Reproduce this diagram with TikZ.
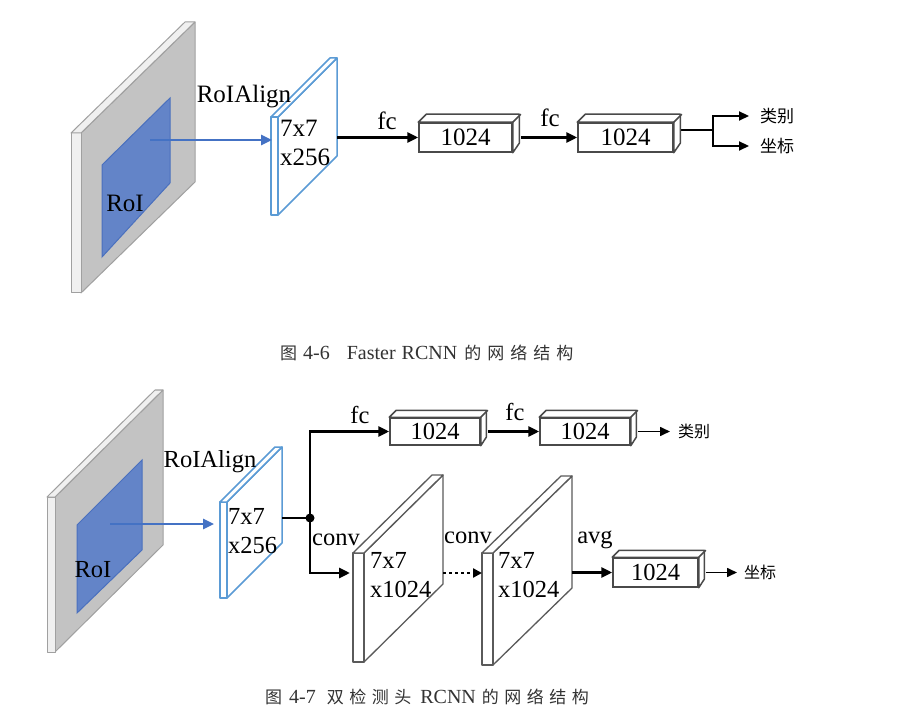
\documentclass[tikz,border=0pt]{standalone}
\usepackage{fontspec}
\setmainfont{Liberation Serif}
\newfontfamily\cjk{Noto Sans CJK SC}
\usetikzlibrary{arrows.meta}
\pgfdeclarelayer{bg}
\pgfsetlayers{bg,main}
\definecolor{slabgray}{HTML}{C3C3C3}
\definecolor{slabedge}{HTML}{A0A0A0}
\definecolor{stripfill}{HTML}{F0F0F0}
\definecolor{roiblue}{HTML}{6384C8}
\definecolor{roiedge}{HTML}{4A70BE}
\definecolor{arrowblue}{HTML}{4472C4}
\definecolor{featblue}{HTML}{5B9BD5}
\definecolor{boxc}{HTML}{4A4A4A}
\definecolor{slabline}{HTML}{5A5A5A}
\definecolor{capc}{HTML}{333333}
\newcommand\capcn[1]{{\cjk\fontsize{17}{17}\selectfont #1}}
\begin{document}
\begin{tikzpicture}[x=1pt,y=-1pt,
  lbl/.style={font=\fontsize{25}{29}\selectfont, inner sep=0pt},
  lblb/.style={font=\fontsize{24.5}{29}\selectfont, inner sep=0pt},
  cnl/.style={font=\cjk\fontsize{17}{17}\selectfont, inner sep=0pt, anchor=west},
  cns/.style={font=\cjk\fontsize{16}{16}\selectfont, inner sep=0pt, anchor=west},
  capt/.style={font=\fontsize{20}{20}\selectfont, text=capc, inner sep=0pt, anchor=west},
  fcbox/.style={draw=boxc, line width=1.5pt, fill=white, inner sep=0pt, minimum height=29pt},
  face/.style={draw=boxc, line width=1.5pt, fill=white, line join=round},
  arr/.style={line width=2.8pt, -{Triangle[length=11pt,width=10pt]}},
  thinarr/.style={line width=1.6pt, -{Triangle[length=10pt,width=9pt]}},
  bluearr/.style={draw=arrowblue, line width=2.6pt, -{Triangle[length=11pt,width=10pt]}},
  dotarr/.style={line width=2.8pt, dash pattern=on 3pt off 3pt, -{Triangle[length=9pt,width=9pt]}},
  grayslab/.style={fill=slabgray, draw=slabedge, line width=1pt, line join=round},
  strip/.style={fill=stripfill, draw=slabedge, line width=1pt, line join=round},
  roi/.style={fill=roiblue, draw=roiedge, line width=1pt},
  bluestrip/.style={fill=white, draw=featblue, line width=1.5pt, line join=round},
  whiteslab/.style={fill=white, draw=slabline, line width=1.3pt, line join=round},
]
\useasboundingbox (0,0) rectangle (914,714);
\begin{pgfonlayer}{bg}
\fill[white] (0,0) rectangle (914,714);
\end{pgfonlayer}

% ================= Figure 4-6 =================
\node[fcbox, minimum width=93pt, font=\fontsize{25}{25}\selectfont] (b1) at (465.5,137.5) {1024};
\draw[face] (b1.north west) -- ++(8,-8) -- ++(93,0) -- ++(0,29) -- (b1.south east) -- (b1.north east) -- cycle;
\draw[boxc, line width=1.5pt] (b1.north east) -- ++(8,-8);
\node[fcbox, minimum width=95pt, font=\fontsize{25}{25}\selectfont] (b2) at (625.5,137.5) {1024};
\draw[face] (b2.north west) -- ++(8,-8) -- ++(95,0) -- ++(0,29) -- (b2.south east) -- (b2.north east) -- cycle;
\draw[boxc, line width=1.5pt] (b2.north east) -- ++(8,-8);

\coordinate (roiA) at (150,140);
\coordinate (featA) at (272,140);
\coordinate (featAo) at (337,137.5);
\coordinate (b2o) at (680,130);
\coordinate (splitA) at (713,130);

\node[lbl] (roialignA) at (244,97) {RoIAlign};
\node[lbl] (roitxtA) at (125,203) {RoI};
\node[lbl, align=left, anchor=west] (feattxtA) at (280,142.5) {7x7\\x256};
\node[lbl] (fcA1) at (387,121) {fc};
\node[lbl] (fcA2) at (550,118) {fc};
\node[cnl] (clsA) at (760,116) {类别};
\node[cnl] (boxA) at (760,146) {坐标};

\begin{pgfonlayer}{bg}
  \draw[grayslab] (81,133) -- (195,22) -- (195,182) -- (81,293) -- cycle;
  \draw[strip] (71,133) rectangle (81,293);
  \draw[strip] (71,133) -- (185,22) -- (195,22) -- (81,133) -- cycle;
  \draw[roi] (102,165) -- (170,98) -- (170,183) -- (102,257) -- cycle;
  \draw[bluestrip] (278,117) -- (337,58) -- (337,156) -- (278,215) -- cycle;
  \draw[bluestrip] (271,117) rectangle (278,215);
  \draw[bluestrip] (271,117) -- (330,58) -- (337,58) -- (278,117) -- cycle;
  \draw[bluearr] (roiA) -- (featA);
  \draw[arr] (featAo) -- (b1.west);
  \draw[arr, shorten <=8pt] (b1.east) -- (b2.west);
  \draw[line width=2.2pt] (b2o) -- (splitA);
  \draw[line width=2.2pt, -{Triangle[length=10pt,width=9pt]}, shorten >=11pt] (splitA) |- (clsA.west);
  \draw[line width=2.2pt, -{Triangle[length=10pt,width=9pt]}, shorten >=11pt] (splitA) |- (boxA.west);
\end{pgfonlayer}

\node[capt] (cap1) at (280,353) {\capcn{图}\hspace{6pt}4-6\hspace{17pt}Faster\hspace{6pt}RCNN\hspace{7pt}\capcn{的\kern6pt 网\kern6pt 络\kern6pt 结\kern6pt 构}};

% ================= Figure 4-7 =================
\node[fcbox, minimum width=90pt, minimum height=27pt, font=\fontsize{24.5}{24.5}\selectfont] (bA) at (435,431.5) {1024};
\draw[face] (bA.north west) -- ++(7,-7) -- ++(90,0) -- ++(0,27) -- (bA.south east) -- (bA.north east) -- cycle;
\draw[boxc, line width=1.5pt] (bA.north east) -- ++(7,-7);
\node[fcbox, minimum width=90pt, minimum height=27pt, font=\fontsize{24.5}{24.5}\selectfont] (bB) at (585,431.5) {1024};
\draw[face] (bB.north west) -- ++(7,-7) -- ++(90,0) -- ++(0,27) -- (bB.south east) -- (bB.north east) -- cycle;
\draw[boxc, line width=1.5pt] (bB.north east) -- ++(7,-7);
\node[fcbox, minimum width=85pt, minimum height=29pt, font=\fontsize{24.5}{24.5}\selectfont] (bC) at (655.5,572.5) {1024};
\draw[face] (bC.north west) -- ++(7,-7) -- ++(85,0) -- ++(0,29) -- (bC.south east) -- (bC.north east) -- cycle;
\draw[boxc, line width=1.5pt] (bC.north east) -- ++(7,-7);

\coordinate (roiB) at (110,524);
\coordinate (featB) at (214,524);
\coordinate (featBo) at (282,518);
\coordinate (junc) at (310,518);
\coordinate (c1in) at (350,573);
\coordinate (c1out) at (443,573);
\coordinate (c2in) at (482,573);
\coordinate (c2out) at (572,572.5);

\node[lblb] (roialignB) at (210,462) {RoIAlign};
\node[lblb] (roitxtB) at (93,570) {RoI};
\node[lblb, align=left, anchor=west] (feattxtB) at (228,531) {7x7\\x256};
\node[lblb, align=left, anchor=west] (c1txt) at (370,575) {7x7\\x1024};
\node[lblb, align=left, anchor=west] (c2txt) at (498,575) {7x7\\x1024};
\node[lblb] (fcB1) at (360,415) {fc};
\node[lblb] (fcB2) at (515,412) {fc};
\node[lblb] (conv1) at (336,540) {conv};
\node[lblb] (conv2) at (468,538) {conv};
\node[lblb] (avg) at (595,540) {avg};
\node[cns] (clsB) at (678,431.5) {类别};
\node[cns] (boxB) at (744,572.5) {坐标};

\begin{pgfonlayer}{bg}
  \draw[grayslab] (55,497) -- (163,390) -- (163,545) -- (55,652) -- cycle;
  \draw[strip] (47,497) rectangle (55,652);
  \draw[strip] (47,497) -- (155,390) -- (163,390) -- (55,497) -- cycle;
  \draw[roi] (77,525) -- (142,460) -- (142,550) -- (77,613) -- cycle;
  \draw[bluestrip] (227,502) -- (282,447) -- (282,543) -- (227,598) -- cycle;
  \draw[bluestrip] (220,502) rectangle (227,598);
  \draw[bluestrip] (220,502) -- (275,447) -- (282,447) -- (227,502) -- cycle;
  \draw[whiteslab] (364,553) -- (443,475) -- (443,584) -- (364,662) -- cycle;
  \draw[whiteslab] (353,553) rectangle (364,662);
  \draw[whiteslab] (353,553) -- (432,475) -- (443,475) -- (364,553) -- cycle;
  \draw[whiteslab] (493,553) -- (572,476) -- (572,588) -- (493,665) -- cycle;
  \draw[whiteslab] (482,553) rectangle (493,665);
  \draw[whiteslab] (482,553) -- (561,476) -- (572,476) -- (493,553) -- cycle;
  \draw[bluearr] (roiB) -- (featB);
  \draw[line width=2.8pt] (featBo) -- (junc);
  \fill (junc) circle (4.5pt);
  \draw[arr] (junc) |- (bA.west);
  \draw[arr] (junc) |- (c1in);
  \draw[arr, shorten <=7pt] (bA.east) -- (bB.west);
  \draw[thinarr, shorten <=7pt, shorten >=8pt] (bB.east) -- (clsB.west);
  \draw[dotarr] (c1out) -- (c2in);
  \draw[arr] (c2out) -- (bC.west);
  \draw[thinarr, shorten <=7pt, shorten >=7pt] (bC.east) -- (boxB.west);
\end{pgfonlayer}

\node[capt] (cap2) at (265,697) {\capcn{图}\hspace{7pt}4-7\hspace{11pt}\capcn{双\kern5.5pt 检\kern5.5pt 测\kern5.5pt 头}\hspace{9pt}RCNN\hspace{6pt}\capcn{的\kern5.5pt 网\kern5.5pt 络\kern5.5pt 结\kern5.5pt 构}};
\end{tikzpicture}
\end{document}
